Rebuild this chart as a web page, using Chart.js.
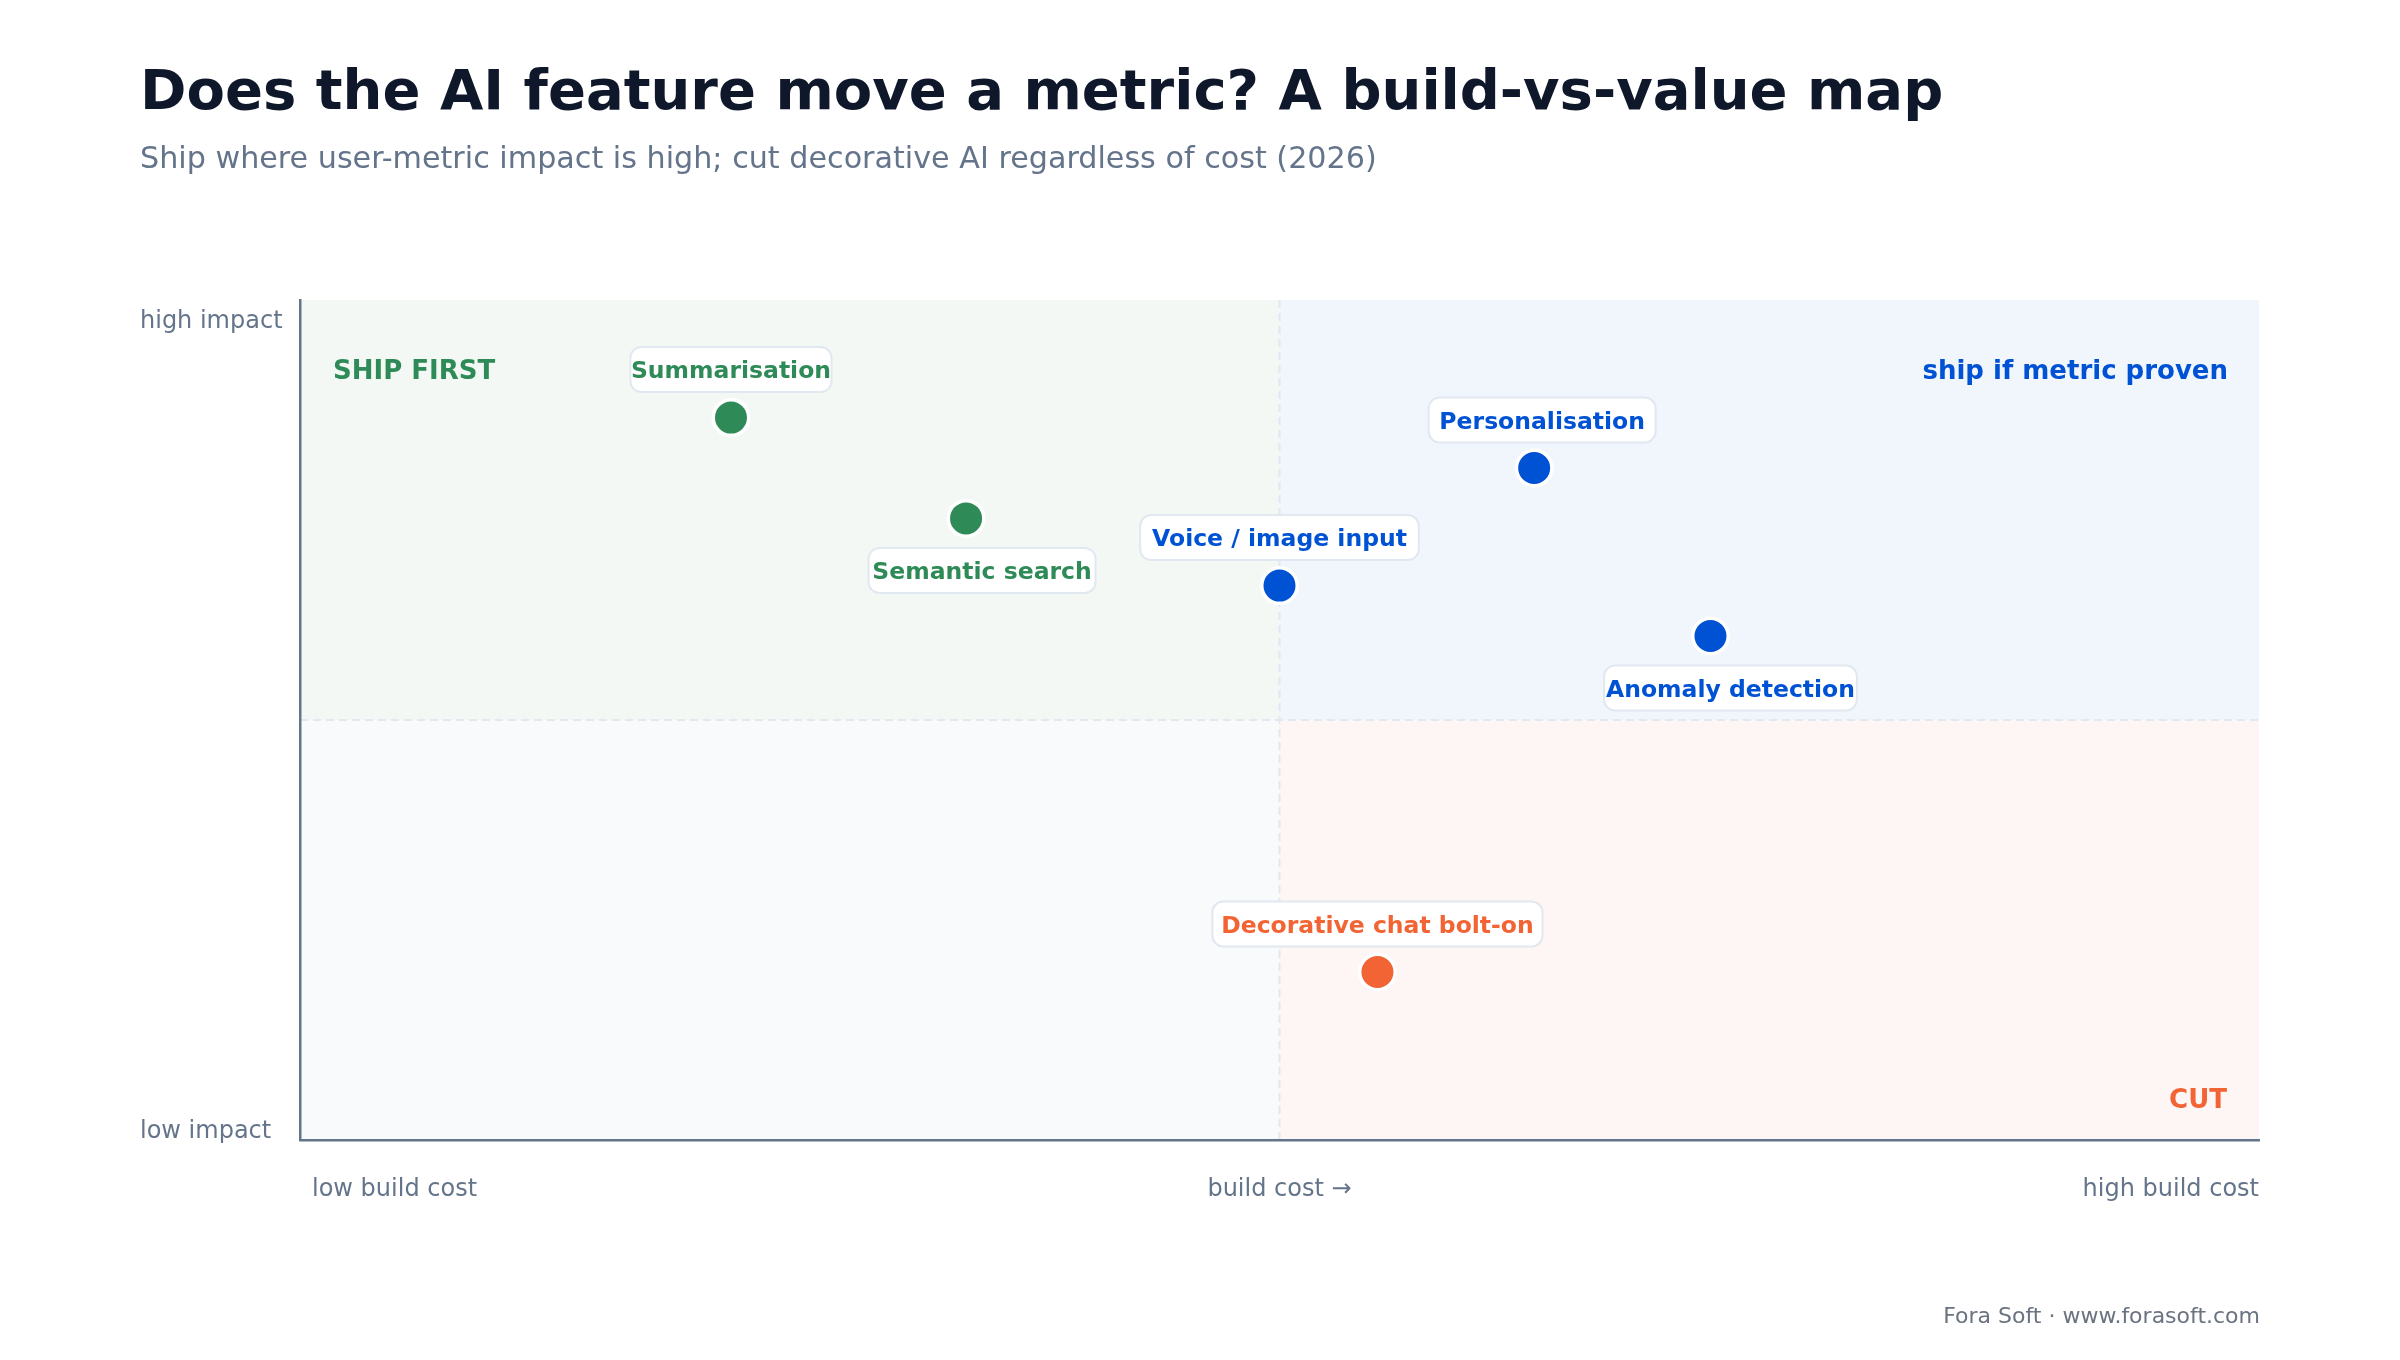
<!DOCTYPE html>
<html>
<head>
<meta charset="utf-8">
<script src="https://cdn.jsdelivr.net/npm/chart.js@4.4.1/dist/chart.umd.min.js"></script>
<style>
  html, body { margin: 0; padding: 0; background: #fff; }
  body { width: 2400px; height: 1360px; position: relative; overflow: hidden; font-family: 'DejaVu Sans', sans-serif; }
  #chart { position: absolute; left: 0; top: 0; }
  .title, .subtitle, .footer { position: absolute; z-index: 2; line-height: 1; white-space: nowrap; }
  .title { left: 140px; top: 62px; font-size: 56px; font-weight: bold; color: #0f172a; }
  .subtitle { left: 140px; top: 143px; font-size: 30.2px; color: #64748b; }
  .footer { right: 140px; top: 1305px; font-size: 22px; color: #6b7280; }
</style>
</head>
<body>
<div class="title">Does the AI feature move a metric? A build-vs-value map</div>
<div class="subtitle">Ship where user-metric impact is high; cut decorative AI regardless of cost (2026)</div>
<canvas id="chart" width="2400" height="1360"></canvas>
<div class="footer">Fora Soft · www.forasoft.com</div>

<script>
// data (0-10 scale on both axes)
const features = ['Summarisation', 'Semantic search', 'Voice / image input', 'Personalisation', 'Anomaly detection', 'Decorative chat bolt-on'];
const buildCost = [2.2, 3.4, 5.0, 6.3, 7.2, 5.5];
const metricImpact = [8.6, 7.4, 6.6, 8.0, 6.0, 2.0];
const verdict = ['ship', 'ship', 'proven', 'proven', 'proven', 'cut'];

const verdictKeys = ['ship', 'proven', 'cut'];
const verdictLabels = ['SHIP FIRST', 'ship if metric proven', 'CUT'];

const xTickValues = [0, 5, 10];
const xTickLabels = ['low build cost', 'build cost →', 'high build cost'];
const yTickValues = [0, 10];
const yTickLabels = ['low impact', 'high impact'];

// styling
const FONT = "'DejaVu Sans', sans-serif";
const colors = { ship: '#2e8b57', proven: '#0052d4', cut: '#f26434' };
const slate = '#64748b';
const labelSide = { 'Summarisation': ['above', 0], 'Semantic search': ['below', 16], 'Voice / image input': ['above', 0],
  'Personalisation': ['above', 8], 'Anomaly detection': ['below', 20], 'Decorative chat bolt-on': ['above', 0] };

const datasets = verdictKeys.map((key, k) => {
  const pts = [];
  features.forEach((f, i) => {
    if (verdict[i] === key) pts.push({ x: buildCost[i], y: metricImpact[i], name: f });
  });
  return {
    label: verdictLabels[k],
    data: pts,
    backgroundColor: colors[key],
    borderColor: '#ffffff',
    borderWidth: 3.5,
    pointRadius: 17.75,
    pointHoverRadius: 17.75,
  };
});

const quadrantPlugin = {
  id: 'quadrants',
  beforeDraw(chart) {
    const { ctx, chartArea: a, scales: { x, y } } = chart;
    const mx = x.getPixelForValue(5), my = y.getPixelForValue(5);
    ctx.save();
    ctx.fillStyle = 'rgba(46,139,87,0.06)';
    ctx.fillRect(a.left, a.top, mx - a.left, my - a.top);
    ctx.fillStyle = 'rgba(0,82,212,0.055)';
    ctx.fillRect(mx, a.top, a.right - mx, my - a.top);
    ctx.fillStyle = '#f8fafc';
    ctx.fillRect(a.left, my, mx - a.left, a.bottom - my);
    ctx.fillStyle = 'rgba(242,100,52,0.055)';
    ctx.fillRect(mx, my, a.right - mx, a.bottom - my);

    ctx.strokeStyle = '#e2e8f0';
    ctx.lineWidth = 2;
    ctx.setLineDash([8, 5]);
    ctx.beginPath();
    ctx.moveTo(mx, a.top); ctx.lineTo(mx, a.bottom);
    ctx.moveTo(a.left, my); ctx.lineTo(a.right, my);
    ctx.stroke();
    ctx.restore();
  },
  afterDatasetsDraw(chart) {
    const { ctx, chartArea: a, scales: { x, y } } = chart;
    ctx.save();
    // quadrant names
    ctx.font = 'bold 26px ' + FONT;
    ctx.textBaseline = 'alphabetic';
    ctx.fillStyle = colors.ship;
    ctx.textAlign = 'left';
    ctx.fillText(verdictLabels[0], a.left + 33, a.top + 79);
    ctx.fillStyle = colors.proven;
    ctx.textAlign = 'right';
    ctx.fillText(verdictLabels[1], a.right - 31, a.top + 79);
    ctx.fillStyle = colors.cut;
    ctx.fillText(verdictLabels[2], a.right - 32, a.bottom - 32);

    // axis end labels
    ctx.font = '24px ' + FONT;
    ctx.fillStyle = slate;
    xTickValues.forEach((v, i) => {
      const px = x.getPixelForValue(v);
      ctx.textAlign = i === 0 ? 'left' : (i === xTickValues.length - 1 ? 'right' : 'center');
      ctx.fillText(xTickLabels[i], i === 0 ? px + 12 : px, a.bottom + 56);
    });
    ctx.textAlign = 'left';
    yTickValues.forEach((v, i) => {
      const py = y.getPixelForValue(v);
      ctx.fillText(yTickLabels[i], 140, v === 0 ? py - 2 : py + 28);
    });

    // feature labels
    ctx.font = 'bold 23.5px ' + FONT;
    ctx.textAlign = 'center';
    chart.data.datasets.forEach((ds, d) => {
      const meta = chart.getDatasetMeta(d);
      ds.data.forEach((p, j) => {
        const el = meta.data[j];
        const [side, dx] = labelSide[p.name];
        const w = 12.9 * p.name.length + 33.5, h = 45;
        const cx = el.x + dx, cy = side === 'above' ? el.y - 48 : el.y + 52;
        ctx.beginPath();
        ctx.roundRect(cx - w / 2, cy - h / 2, w, h, 11);
        ctx.fillStyle = '#ffffff';
        ctx.fill();
        ctx.strokeStyle = '#e2e8f0';
        ctx.lineWidth = 2;
        ctx.stroke();
        ctx.fillStyle = ds.backgroundColor;
        ctx.fillText(p.name, cx, cy + 8.6);
      });
    });
    ctx.restore();
  }
};

new Chart(document.getElementById('chart'), {
  type: 'scatter',
  data: { datasets },
  options: {
    responsive: false,
    devicePixelRatio: 1,
    animation: false,
    events: [],
    layout: { padding: { left: 300, top: 300, right: 141, bottom: 220 } },
    plugins: { legend: { display: false }, tooltip: { enabled: false } },
    scales: {
      x: {
        type: 'linear', min: 0, max: 10,
        ticks: { display: false },
        grid: { display: false, drawTicks: false },
        border: { display: true, color: slate, width: 2.5 },
      },
      y: {
        type: 'linear', min: 0, max: 10,
        ticks: { display: false },
        grid: { display: false, drawTicks: false },
        border: { display: true, color: slate, width: 2.5 },
      },
    },
  },
  plugins: [quadrantPlugin],
});
</script>
</body>
</html>
